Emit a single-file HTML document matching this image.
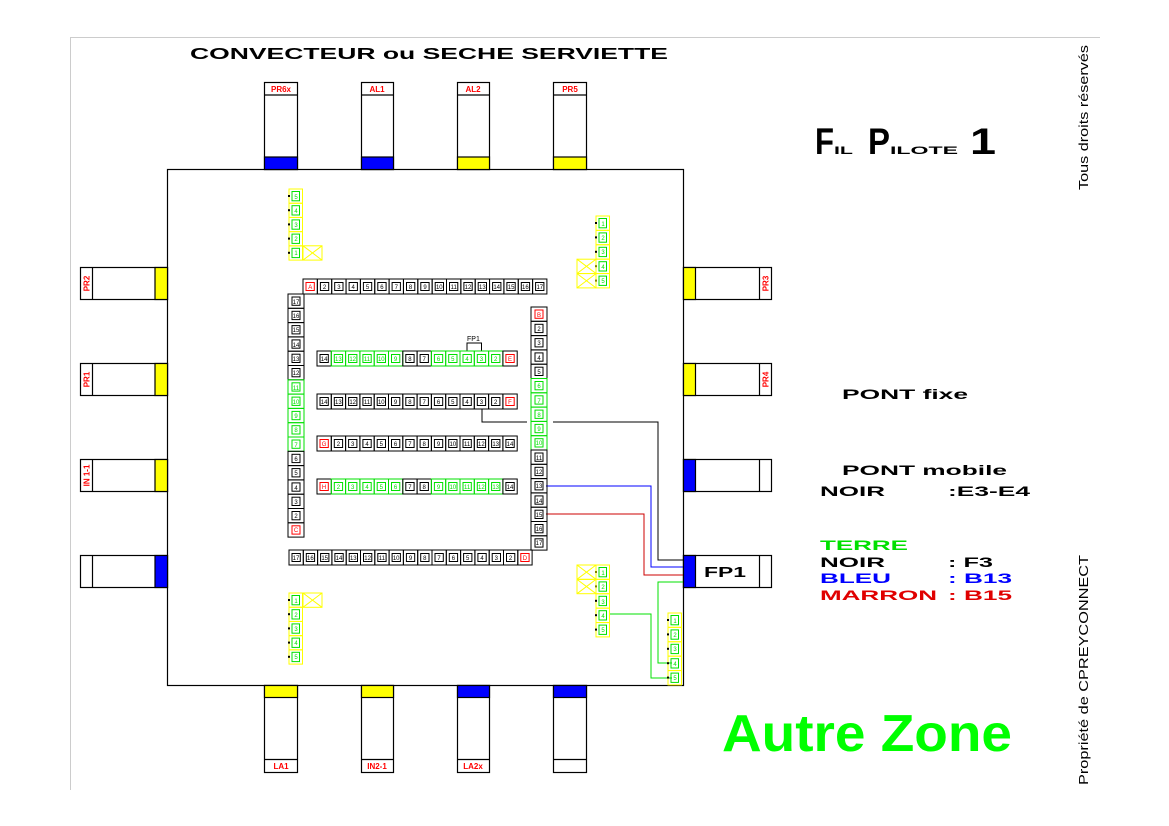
<!DOCTYPE html>
<html><head><meta charset="utf-8"><style>
html,body{margin:0;padding:0;background:#fff}
svg{display:block}
text{font-family:"Liberation Sans",sans-serif}
.n{font-size:6px;text-anchor:middle}
.k{color:#000;fill:#000}.g{color:#00e000;fill:#00e000}.r{color:#f00;fill:#f00}
.L{font-size:8px;font-weight:bold;fill:#f00;text-anchor:middle}
.t{font-size:14px;font-weight:bold}
</style></head><body>
<svg width="1169" height="826" viewBox="0 0 1169 826" xmlns="http://www.w3.org/2000/svg">
<defs>
<symbol id="h" overflow="visible"><rect x="0" y="0" width="14.3" height="15" fill="none" stroke="#000" stroke-width="1"/><rect x="3" y="3.5" width="8.3" height="8" fill="none" stroke="currentColor" stroke-width="1"/></symbol>
<symbol id="hg" overflow="visible"><rect x="0" y="0" width="14.3" height="15" fill="none" stroke="currentColor" stroke-width="1"/><rect x="3" y="3.5" width="8.3" height="8" fill="none" stroke="currentColor" stroke-width="1"/></symbol>
<symbol id="v" overflow="visible"><rect x="0" y="0" width="16" height="14.3" fill="none" stroke="#000" stroke-width="1"/><rect x="4" y="3" width="8" height="8.3" fill="none" stroke="currentColor" stroke-width="1"/></symbol>
<symbol id="vg" overflow="visible"><rect x="0" y="0" width="16" height="14.3" fill="none" stroke="currentColor" stroke-width="1"/><rect x="4" y="3" width="8" height="8.3" fill="none" stroke="currentColor" stroke-width="1"/></symbol>
<symbol id="s" overflow="visible"><rect x="0" y="0" width="13.5" height="14.3" fill="none" stroke="#ff0" stroke-width="1"/><rect x="3" y="2.5" width="7.5" height="9.3" fill="none" stroke="#00e000" stroke-width="1"/><rect x="-1" y="6" width="2" height="2" fill="#000"/></symbol>
<symbol id="x" overflow="visible"><rect x="0" y="0" width="19" height="14.3" fill="none" stroke="#ff0" stroke-width="1"/><path d="M0 0L19 14.3M19 0L0 14.3" stroke="#ff0" stroke-width="1"/></symbol>
</defs>

<line x1="70" y1="37.5" x2="1100" y2="37.5" stroke="#ccc"/>
<line x1="70.5" y1="37" x2="70.5" y2="790" stroke="#ccc"/>

<text x="190" y="59" style="font-size:15.5px;font-weight:bold" textLength="478" lengthAdjust="spacingAndGlyphs">CONVECTEUR ou SECHE SERVIETTE</text>
<text transform="translate(1088,190) rotate(-90)" style="font-size:13px" textLength="145" lengthAdjust="spacingAndGlyphs">Tous droits réservés</text>
<text transform="translate(1088,785) rotate(-90)" style="font-size:13px" textLength="230" lengthAdjust="spacingAndGlyphs">Propriété de CPREYCONNECT</text>

<text x="815" y="154" style="font-size:37px;font-weight:bold" textLength="19" lengthAdjust="spacingAndGlyphs">F</text>
<text x="834" y="154" style="font-size:11px;font-weight:bold" textLength="19" lengthAdjust="spacingAndGlyphs">IL</text>
<text x="868" y="154" style="font-size:37px;font-weight:bold" textLength="22" lengthAdjust="spacingAndGlyphs">P</text>
<text x="890" y="154" style="font-size:11px;font-weight:bold" textLength="68" lengthAdjust="spacingAndGlyphs">ILOTE</text>
<text x="970" y="154" style="font-size:37px;font-weight:bold" textLength="26" lengthAdjust="spacingAndGlyphs">1</text>

<rect x="167.5" y="169.5" width="516" height="516" fill="none" stroke="#000" stroke-width="1.2"/>

<g stroke="#000" stroke-width="1.2">
<rect x="264.5" y="82.5" width="33" height="87" fill="#fff"/><rect x="264.5" y="157" width="33" height="12.5" fill="#00f"/><line x1="264.5" y1="95" x2="297.5" y2="95"/>
<rect x="361.5" y="82.5" width="32" height="87" fill="#fff"/><rect x="361.5" y="157" width="32" height="12.5" fill="#00f"/><line x1="361.5" y1="95" x2="393.5" y2="95"/>
<rect x="457.5" y="82.5" width="32" height="87" fill="#fff"/><rect x="457.5" y="157" width="32" height="12.5" fill="#ff0"/><line x1="457.5" y1="95" x2="489.5" y2="95"/>
<rect x="553.5" y="82.5" width="33" height="87" fill="#fff"/><rect x="553.5" y="157" width="33" height="12.5" fill="#ff0"/><line x1="553.5" y1="95" x2="586.5" y2="95"/>
<rect x="264.5" y="685.5" width="33" height="87" fill="#fff"/><rect x="264.5" y="685.5" width="33" height="12" fill="#ff0"/><line x1="264.5" y1="759.5" x2="297.5" y2="759.5"/>
<rect x="361.5" y="685.5" width="32" height="87" fill="#fff"/><rect x="361.5" y="685.5" width="32" height="12" fill="#ff0"/><line x1="361.5" y1="759.5" x2="393.5" y2="759.5"/>
<rect x="457.5" y="685.5" width="32" height="87" fill="#fff"/><rect x="457.5" y="685.5" width="32" height="12" fill="#00f"/><line x1="457.5" y1="759.5" x2="489.5" y2="759.5"/>
<rect x="553.5" y="685.5" width="33" height="87" fill="#fff"/><rect x="553.5" y="685.5" width="33" height="12" fill="#00f"/><line x1="553.5" y1="759.5" x2="586.5" y2="759.5"/>
<rect x="80.5" y="267.5" width="87" height="32" fill="#fff"/><rect x="155" y="267.5" width="12.5" height="32" fill="#ff0"/><line x1="92.5" y1="267.5" x2="92.5" y2="299.5"/>
<rect x="80.5" y="363.5" width="87" height="32" fill="#fff"/><rect x="155" y="363.5" width="12.5" height="32" fill="#ff0"/><line x1="92.5" y1="363.5" x2="92.5" y2="395.5"/>
<rect x="80.5" y="459.5" width="87" height="32" fill="#fff"/><rect x="155" y="459.5" width="12.5" height="32" fill="#ff0"/><line x1="92.5" y1="459.5" x2="92.5" y2="491.5"/>
<rect x="80.5" y="555.5" width="87" height="32" fill="#fff"/><rect x="155" y="555.5" width="12.5" height="32" fill="#00f"/><line x1="92.5" y1="555.5" x2="92.5" y2="587.5"/>
<rect x="683.5" y="267.5" width="88" height="32" fill="#fff"/><rect x="683.5" y="267.5" width="12" height="32" fill="#ff0"/><line x1="759.5" y1="267.5" x2="759.5" y2="299.5"/>
<rect x="683.5" y="363.5" width="88" height="32" fill="#fff"/><rect x="683.5" y="363.5" width="12" height="32" fill="#ff0"/><line x1="759.5" y1="363.5" x2="759.5" y2="395.5"/>
<rect x="683.5" y="459.5" width="88" height="32" fill="#fff"/><rect x="683.5" y="459.5" width="12" height="32" fill="#00f"/><line x1="759.5" y1="459.5" x2="759.5" y2="491.5"/>
<rect x="683.5" y="555.5" width="88" height="32" fill="#fff"/><rect x="683.5" y="555.5" width="12" height="32" fill="#00f"/><line x1="759.5" y1="555.5" x2="759.5" y2="587.5"/>
</g>
<text class="L" x="281" y="92">PR6x</text><text class="L" x="377" y="92">AL1</text><text class="L" x="473" y="92">AL2</text><text class="L" x="570" y="92">PR5</text>
<text class="L" x="281" y="769">LA1</text><text class="L" x="377" y="769">IN2-1</text><text class="L" x="473" y="769">LA2x</text>
<text class="L" transform="translate(89.5,283.5) rotate(-90)">PR2</text>
<text class="L" transform="translate(89.5,379.5) rotate(-90)">PR1</text>
<text class="L" transform="translate(89.5,475.5) rotate(-90)">IN 1-1</text>
<text class="L" transform="translate(768.5,283.5) rotate(-90)">PR3</text>
<text class="L" transform="translate(768.5,379.5) rotate(-90)">PR4</text>
<text x="704" y="577" style="font-size:15px;font-weight:bold" textLength="42" lengthAdjust="spacingAndGlyphs">FP1</text>

<g fill="none" stroke-width="1">
<path d="M482 409V422H527M553 422H658V560H683" stroke="#000"/>
<path d="M546 486H651V567H683" stroke="#00f"/>
<path d="M546 514H644V575H683" stroke="#c00"/>
<path d="M683 582H658V663H672M609 614H651V678H672" stroke="#00e000"/>
<path d="M467 351V343H481.5V351" stroke="#000"/>
</g>
<text x="467" y="341" style="font-size:7px">FP1</text>

<g>
<use href="#h" class="r" x="303" y="279"/><text class="n r" x="310.2" y="289">A</text>
<use href="#h" class="k" x="317.4" y="279"/><text class="n" x="324.5" y="289">2</text>
<use href="#h" class="k" x="331.7" y="279"/><text class="n" x="338.9" y="289">3</text>
<use href="#h" class="k" x="346.1" y="279"/><text class="n" x="353.2" y="289">4</text>
<use href="#h" class="k" x="360.4" y="279"/><text class="n" x="367.6" y="289">5</text>
<use href="#h" class="k" x="374.8" y="279"/><text class="n" x="381.9" y="289">6</text>
<use href="#h" class="k" x="389.1" y="279"/><text class="n" x="396.3" y="289">7</text>
<use href="#h" class="k" x="403.5" y="279"/><text class="n" x="410.6" y="289">8</text>
<use href="#h" class="k" x="417.8" y="279"/><text class="n" x="425" y="289">9</text>
<use href="#h" class="k" x="432.2" y="279"/><text class="n" x="439.3" y="289">10</text>
<use href="#h" class="k" x="446.5" y="279"/><text class="n" x="453.7" y="289">11</text>
<use href="#h" class="k" x="460.9" y="279"/><text class="n" x="468" y="289">12</text>
<use href="#h" class="k" x="475.2" y="279"/><text class="n" x="482.4" y="289">13</text>
<use href="#h" class="k" x="489.6" y="279"/><text class="n" x="496.7" y="289">14</text>
<use href="#h" class="k" x="503.9" y="279"/><text class="n" x="511.1" y="289">15</text>
<use href="#h" class="k" x="518.3" y="279"/><text class="n" x="525.4" y="289">16</text>
<use href="#h" class="k" x="532.6" y="279"/><text class="n" x="539.8" y="289">17</text>
</g>
<g>
<use href="#v" class="k" x="288" y="294"/><text class="n" x="296" y="304">17</text>
<use href="#v" class="k" x="288" y="308.3"/><text class="n" x="296" y="318">16</text>
<use href="#v" class="k" x="288" y="322.6"/><text class="n" x="296" y="332">15</text>
<use href="#v" class="k" x="288" y="336.9"/><text class="n" x="296" y="347">14</text>
<use href="#v" class="k" x="288" y="351.2"/><text class="n" x="296" y="361">13</text>
<use href="#v" class="k" x="288" y="365.5"/><text class="n" x="296" y="375">12</text>
<use href="#vg" class="g" x="288" y="379.8"/><text class="n g" x="296" y="390">11</text>
<use href="#vg" class="g" x="288" y="394.1"/><text class="n g" x="296" y="404">10</text>
<use href="#vg" class="g" x="288" y="408.4"/><text class="n g" x="296" y="418">9</text>
<use href="#vg" class="g" x="288" y="422.7"/><text class="n g" x="296" y="432">8</text>
<use href="#vg" class="g" x="288" y="437"/><text class="n g" x="296" y="447">7</text>
<use href="#v" class="k" x="288" y="451.3"/><text class="n" x="296" y="461">6</text>
<use href="#v" class="k" x="288" y="465.6"/><text class="n" x="296" y="475">5</text>
<use href="#v" class="k" x="288" y="479.9"/><text class="n" x="296" y="490">4</text>
<use href="#v" class="k" x="288" y="494.2"/><text class="n" x="296" y="504">3</text>
<use href="#v" class="k" x="288" y="508.5"/><text class="n" x="296" y="518">2</text>
<use href="#v" class="r" x="288" y="522.8"/><text class="n r" x="296" y="532">C</text>
</g>
<g>
<use href="#v" class="r" x="531" y="307"/><text class="n r" x="539" y="317">B</text>
<use href="#v" class="k" x="531" y="321.3"/><text class="n" x="539" y="331">2</text>
<use href="#v" class="k" x="531" y="335.6"/><text class="n" x="539" y="345">3</text>
<use href="#v" class="k" x="531" y="349.9"/><text class="n" x="539" y="360">4</text>
<use href="#v" class="k" x="531" y="364.2"/><text class="n" x="539" y="374">5</text>
<use href="#vg" class="g" x="531" y="378.5"/><text class="n g" x="539" y="388">6</text>
<use href="#vg" class="g" x="531" y="392.8"/><text class="n g" x="539" y="403">7</text>
<use href="#vg" class="g" x="531" y="407.1"/><text class="n g" x="539" y="417">8</text>
<use href="#vg" class="g" x="531" y="421.4"/><text class="n g" x="539" y="431">9</text>
<use href="#vg" class="g" x="531" y="435.7"/><text class="n g" x="539" y="445">10</text>
<use href="#v" class="k" x="531" y="450"/><text class="n" x="539" y="460">11</text>
<use href="#v" class="k" x="531" y="464.3"/><text class="n" x="539" y="474">12</text>
<use href="#v" class="k" x="531" y="478.6"/><text class="n" x="539" y="488">13</text>
<use href="#v" class="k" x="531" y="492.9"/><text class="n" x="539" y="503">14</text>
<use href="#v" class="k" x="531" y="507.2"/><text class="n" x="539" y="517">15</text>
<use href="#v" class="k" x="531" y="521.5"/><text class="n" x="539" y="531">16</text>
<use href="#v" class="k" x="531" y="535.8"/><text class="n" x="539" y="545">17</text>
</g>
<g>
<use href="#h" class="k" x="289" y="550"/><text class="n" x="296" y="560">17</text>
<use href="#h" class="k" x="303.3" y="550"/><text class="n" x="310.4" y="560">16</text>
<use href="#h" class="k" x="317.6" y="550"/><text class="n" x="324.7" y="560">15</text>
<use href="#h" class="k" x="331.9" y="550"/><text class="n" x="339" y="560">14</text>
<use href="#h" class="k" x="346.2" y="550"/><text class="n" x="353.3" y="560">13</text>
<use href="#h" class="k" x="360.5" y="550"/><text class="n" x="367.6" y="560">12</text>
<use href="#h" class="k" x="374.8" y="550"/><text class="n" x="381.9" y="560">11</text>
<use href="#h" class="k" x="389.1" y="550"/><text class="n" x="396.2" y="560">10</text>
<use href="#h" class="k" x="403.4" y="550"/><text class="n" x="410.5" y="560">9</text>
<use href="#h" class="k" x="417.7" y="550"/><text class="n" x="424.8" y="560">8</text>
<use href="#h" class="k" x="432" y="550"/><text class="n" x="439.1" y="560">7</text>
<use href="#h" class="k" x="446.3" y="550"/><text class="n" x="453.4" y="560">6</text>
<use href="#h" class="k" x="460.6" y="550"/><text class="n" x="467.7" y="560">5</text>
<use href="#h" class="k" x="474.9" y="550"/><text class="n" x="482" y="560">4</text>
<use href="#h" class="k" x="489.2" y="550"/><text class="n" x="496.3" y="560">3</text>
<use href="#h" class="k" x="503.5" y="550"/><text class="n" x="510.6" y="560">2</text>
<use href="#h" class="r" x="517.8" y="550"/><text class="n r" x="524.9" y="560">D</text>
</g>
<g>
<use href="#h" class="k" x="317" y="351"/><text class="n" x="324.1" y="361">14</text>
<use href="#hg" class="g" x="331.3" y="351"/><text class="n g" x="338.4" y="361">13</text>
<use href="#hg" class="g" x="345.6" y="351"/><text class="n g" x="352.7" y="361">12</text>
<use href="#hg" class="g" x="359.9" y="351"/><text class="n g" x="367" y="361">11</text>
<use href="#hg" class="g" x="374.2" y="351"/><text class="n g" x="381.3" y="361">10</text>
<use href="#hg" class="g" x="388.5" y="351"/><text class="n g" x="395.6" y="361">9</text>
<use href="#h" class="k" x="402.8" y="351"/><text class="n" x="409.9" y="361">8</text>
<use href="#h" class="k" x="417.1" y="351"/><text class="n" x="424.2" y="361">7</text>
<use href="#hg" class="g" x="431.4" y="351"/><text class="n g" x="438.5" y="361">6</text>
<use href="#hg" class="g" x="445.7" y="351"/><text class="n g" x="452.8" y="361">5</text>
<use href="#hg" class="g" x="460" y="351"/><text class="n g" x="467.1" y="361">4</text>
<use href="#hg" class="g" x="474.3" y="351"/><text class="n g" x="481.4" y="361">3</text>
<use href="#hg" class="g" x="488.6" y="351"/><text class="n g" x="495.7" y="361">2</text>
<use href="#h" class="r" x="502.9" y="351"/><text class="n r" x="510" y="361">E</text>
</g>
<g>
<use href="#h" class="k" x="317" y="394"/><text class="n" x="324.1" y="404">14</text>
<use href="#h" class="k" x="331.3" y="394"/><text class="n" x="338.4" y="404">13</text>
<use href="#h" class="k" x="345.6" y="394"/><text class="n" x="352.7" y="404">12</text>
<use href="#h" class="k" x="359.9" y="394"/><text class="n" x="367" y="404">11</text>
<use href="#h" class="k" x="374.2" y="394"/><text class="n" x="381.3" y="404">10</text>
<use href="#h" class="k" x="388.5" y="394"/><text class="n" x="395.6" y="404">9</text>
<use href="#h" class="k" x="402.8" y="394"/><text class="n" x="409.9" y="404">8</text>
<use href="#h" class="k" x="417.1" y="394"/><text class="n" x="424.2" y="404">7</text>
<use href="#h" class="k" x="431.4" y="394"/><text class="n" x="438.5" y="404">6</text>
<use href="#h" class="k" x="445.7" y="394"/><text class="n" x="452.8" y="404">5</text>
<use href="#h" class="k" x="460" y="394"/><text class="n" x="467.1" y="404">4</text>
<use href="#h" class="k" x="474.3" y="394"/><text class="n" x="481.4" y="404">3</text>
<use href="#h" class="k" x="488.6" y="394"/><text class="n" x="495.7" y="404">2</text>
<use href="#h" class="r" x="502.9" y="394"/><text class="n r" x="510" y="404">F</text>
</g>
<g>
<use href="#h" class="r" x="317" y="436"/><text class="n r" x="324.1" y="446">G</text>
<use href="#h" class="k" x="331.3" y="436"/><text class="n" x="338.4" y="446">2</text>
<use href="#h" class="k" x="345.6" y="436"/><text class="n" x="352.7" y="446">3</text>
<use href="#h" class="k" x="359.9" y="436"/><text class="n" x="367" y="446">4</text>
<use href="#h" class="k" x="374.2" y="436"/><text class="n" x="381.3" y="446">5</text>
<use href="#h" class="k" x="388.5" y="436"/><text class="n" x="395.6" y="446">6</text>
<use href="#h" class="k" x="402.8" y="436"/><text class="n" x="409.9" y="446">7</text>
<use href="#h" class="k" x="417.1" y="436"/><text class="n" x="424.2" y="446">8</text>
<use href="#h" class="k" x="431.4" y="436"/><text class="n" x="438.5" y="446">9</text>
<use href="#h" class="k" x="445.7" y="436"/><text class="n" x="452.8" y="446">10</text>
<use href="#h" class="k" x="460" y="436"/><text class="n" x="467.1" y="446">11</text>
<use href="#h" class="k" x="474.3" y="436"/><text class="n" x="481.4" y="446">12</text>
<use href="#h" class="k" x="488.6" y="436"/><text class="n" x="495.7" y="446">13</text>
<use href="#h" class="k" x="502.9" y="436"/><text class="n" x="510" y="446">14</text>
</g>
<g>
<use href="#h" class="r" x="317" y="479"/><text class="n r" x="324.1" y="489">H</text>
<use href="#hg" class="g" x="331.3" y="479"/><text class="n g" x="338.4" y="489">2</text>
<use href="#hg" class="g" x="345.6" y="479"/><text class="n g" x="352.7" y="489">3</text>
<use href="#hg" class="g" x="359.9" y="479"/><text class="n g" x="367" y="489">4</text>
<use href="#hg" class="g" x="374.2" y="479"/><text class="n g" x="381.3" y="489">5</text>
<use href="#hg" class="g" x="388.5" y="479"/><text class="n g" x="395.6" y="489">6</text>
<use href="#h" class="k" x="402.8" y="479"/><text class="n" x="409.9" y="489">7</text>
<use href="#h" class="k" x="417.1" y="479"/><text class="n" x="424.2" y="489">8</text>
<use href="#hg" class="g" x="431.4" y="479"/><text class="n g" x="438.5" y="489">9</text>
<use href="#hg" class="g" x="445.7" y="479"/><text class="n g" x="452.8" y="489">10</text>
<use href="#hg" class="g" x="460" y="479"/><text class="n g" x="467.1" y="489">11</text>
<use href="#hg" class="g" x="474.3" y="479"/><text class="n g" x="481.4" y="489">12</text>
<use href="#hg" class="g" x="488.6" y="479"/><text class="n g" x="495.7" y="489">13</text>
<use href="#h" class="k" x="502.9" y="479"/><text class="n" x="510" y="489">14</text>
</g>

<g>
<use href="#s" x="289" y="189"/><text class="n g" x="296" y="199">5</text>
<use href="#s" x="289" y="203.2"/><text class="n g" x="296" y="213">4</text>
<use href="#s" x="289" y="217.4"/><text class="n g" x="296" y="227">3</text>
<use href="#s" x="289" y="231.6"/><text class="n g" x="296" y="241">2</text>
<use href="#s" x="289" y="245.8"/><text class="n g" x="296" y="255">1</text>
<use href="#x" x="303" y="245.8"/>

<use href="#s" x="596" y="216"/><text class="n g" x="603" y="226">1</text>
<use href="#s" x="596" y="230.4"/><text class="n g" x="603" y="240">2</text>
<use href="#s" x="596" y="244.8"/><text class="n g" x="603" y="254">3</text>
<use href="#s" x="596" y="259.2"/><text class="n g" x="603" y="269">4</text>
<use href="#s" x="596" y="273.6"/><text class="n g" x="603" y="283">5</text>
<use href="#x" x="577" y="259.2"/><use href="#x" x="577" y="273.6"/>

<use href="#s" x="596" y="565"/><text class="n g" x="603" y="575">1</text>
<use href="#s" x="596" y="579.4"/><text class="n g" x="603" y="589">2</text>
<use href="#s" x="596" y="593.8"/><text class="n g" x="603" y="604">3</text>
<use href="#s" x="596" y="608.2"/><text class="n g" x="603" y="618">4</text>
<use href="#s" x="596" y="622.6"/><text class="n g" x="603" y="632">5</text>
<use href="#x" x="577" y="565"/><use href="#x" x="577" y="579.4"/>

<use href="#s" x="289" y="593"/><text class="n g" x="296" y="603">1</text>
<use href="#s" x="289" y="607.2"/><text class="n g" x="296" y="617">2</text>
<use href="#s" x="289" y="621.4"/><text class="n g" x="296" y="631">3</text>
<use href="#s" x="289" y="635.6"/><text class="n g" x="296" y="645">4</text>
<use href="#s" x="289" y="649.8"/><text class="n g" x="296" y="659">5</text>
<use href="#x" x="303" y="593"/>

<use href="#s" x="668" y="613"/><text class="n g" x="675" y="623">1</text>
<use href="#s" x="668" y="627.4"/><text class="n g" x="675" y="637">2</text>
<use href="#s" x="668" y="641.8"/><text class="n g" x="675" y="651">3</text>
<use href="#s" x="668" y="656.2"/><text class="n g" x="675" y="666">4</text>
<use href="#s" x="668" y="670.6"/><text class="n g" x="675" y="680">5</text>
</g>

<text class="t" x="842" y="399" textLength="126" lengthAdjust="spacingAndGlyphs">PONT fixe</text>
<text class="t" x="842" y="475" textLength="165" lengthAdjust="spacingAndGlyphs">PONT mobile</text>
<text class="t" x="820" y="496" textLength="65" lengthAdjust="spacingAndGlyphs">NOIR</text><text class="t" x="948" y="496" textLength="82" lengthAdjust="spacingAndGlyphs">:E3-E4</text>
<text class="t" x="820" y="550" fill="#00e000" textLength="88" lengthAdjust="spacingAndGlyphs">TERRE</text>
<text class="t" x="820" y="567" textLength="65" lengthAdjust="spacingAndGlyphs">NOIR</text><text class="t" x="948" y="567" textLength="45" lengthAdjust="spacingAndGlyphs">: F3</text>
<text class="t" x="820" y="583" fill="#00f" textLength="71" lengthAdjust="spacingAndGlyphs">BLEU</text><text class="t" x="948" y="583" fill="#00f" textLength="64" lengthAdjust="spacingAndGlyphs">: B13</text>
<text class="t" x="820" y="600" fill="#e00000" textLength="117" lengthAdjust="spacingAndGlyphs">MARRON</text><text class="t" x="948" y="600" fill="#e00000" textLength="64" lengthAdjust="spacingAndGlyphs">: B15</text>
<text x="722" y="751" style="font-size:52px;font-weight:bold;fill:#00ff00" textLength="290" lengthAdjust="spacingAndGlyphs">Autre Zone</text>
</svg>
</body></html>
